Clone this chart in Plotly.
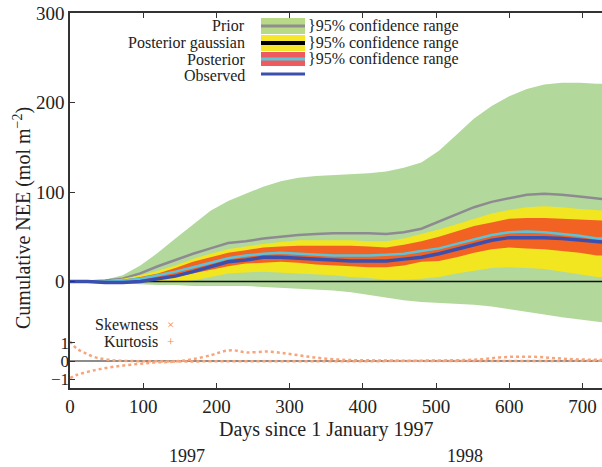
import plotly.graph_objects as go

# ---------------- data ----------------
days = [0, 24, 48, 72, 96, 120, 144, 168, 192, 216, 240, 264, 288, 312, 336, 360,
        384, 408, 432, 456, 480, 504, 528, 552, 576, 600, 624, 648, 672, 696, 720, 730]

prior_upper = [0, 0, 2, 7, 18, 32, 48, 64, 79, 90, 98, 106, 112, 116, 118, 119,
               120, 121, 123, 127, 133, 146, 164, 182, 196, 207, 215, 220, 222, 222, 221, 221]
prior_lower = [0, 0, -1, -2, -3, -4, -4, -5, -5, -5, -5, -6, -7, -8, -9, -10,
               -12, -15, -18, -21, -23, -24, -25, -26, -28, -31, -34, -37, -40, -43, -45, -46]
prior_mean = [0, 0, 1, 3, 9, 17, 24, 31, 37, 43, 45, 48, 50, 52, 53, 54,
              54, 54, 53, 55, 59, 67, 75, 83, 89, 93, 97, 98, 97, 95, 93, 92]

gauss_upper = [0, 0, 1, 3, 7, 12, 18, 25, 31, 36, 39, 42, 44, 46, 46, 46,
               46, 45, 45, 48, 53, 58, 64, 70, 76, 80, 83, 84, 83, 81, 79, 79]
gauss_lower = [0, 0, -1, -1, -1, 0, 0, 1, 5, 9, 10, 11, 10, 9, 8, 7,
               5, 4, 2, 2, 3, 5, 9, 12, 15, 16, 15, 14, 11, 8, 5, 5]

post_upper = [0, 0, 1, 2, 5, 9, 15, 22, 27, 32, 35, 38, 39, 40, 40, 40,
              40, 39, 38, 41, 45, 50, 56, 62, 66, 70, 71, 71, 70, 69, 68, 68]
post_lower = [0, 0, -1, -1, 0, 2, 5, 9, 13, 17, 20, 21, 22, 21, 19, 18,
              17, 16, 16, 18, 22, 23, 27, 32, 36, 38, 37, 36, 34, 32, 29, 29]
post_mean = [0, 0, 0, 1, 3, 7, 11, 16, 21, 26, 29, 31, 32, 31, 30, 29,
             29, 29, 30, 31, 34, 37, 42, 47, 52, 55, 56, 55, 53, 51, 48, 48]

observed = [0, 0, -1, -1, 0, 3, 6, 11, 16, 22, 24, 27, 27, 26, 25, 24,
            23, 23, 23, 25, 27, 31, 36, 41, 46, 49, 49, 49, 48, 46, 44, 44]

kurt_days = [0, 9, 20, 35, 56, 80, 120, 200, 300, 400, 500, 600, 700, 730]
kurtosis = [1.1, 0.7, 0.45, 0.2, 0.05, 0.0, -0.02, -0.02, -0.02, -0.01, 0.0, 0.0, 0.01, 0.02]

skew_days = [0, 9, 35, 60, 87, 114, 140, 166, 193, 208, 222, 240, 272, 298, 324,
             350, 377, 403, 481, 560, 587, 613, 640, 666, 693, 730]
skewness = [-0.95, -0.78, -0.5, -0.32, -0.19, -0.09, -0.04, 0.09, 0.33, 0.52, 0.6,
            0.48, 0.52, 0.4, 0.25, 0.13, 0.06, 0.04, 0.02, 0.09, 0.2, 0.24, 0.22,
            0.15, 0.09, 0.06]

upper_ticks = [0, 100, 200, 300]
lower_ticks = [-1, 0, 1]
lower_ticktext = ["\u22121", "0", "1"]
x_ticks = [0, 100, 200, 300, 400, 500, 600, 700]
year_labels = ["1997", "1998"]
year_pos = [160, 540]

# ---------------- style ----------------
GREEN = "#b3d89c"
YELLOW = "#f2e620"
ORANGE = "#f26222"
GRAY = "#8e8a92"
CYAN = "#5cc4da"
BLUE = "#3d4fae"
SK = "#f6a57c"
FONT = "Liberation Serif"
TXT = "#222222"

W, H = 602, 467
L, R, T, B = 70, 0, 13, 79
PW, PH = W - L - R, H - T - B


def px(x):
    return (x - L) / PW


def py(y):
    return (H - B - y) / PH


def band(lo, hi, color):
    return go.Scatter(x=days + days[::-1], y=hi + lo[::-1], fill="toself",
                      fillcolor=color, line=dict(width=0), mode="lines",
                      hoverinfo="skip", showlegend=False)


fig = go.Figure()
fig.add_trace(band(prior_lower, prior_upper, GREEN))
fig.add_trace(go.Scatter(x=days, y=prior_mean, mode="lines",
                         line=dict(color=GRAY, width=2.5), showlegend=False))
fig.add_trace(band(gauss_lower, gauss_upper, YELLOW))
fig.add_trace(band(post_lower, post_upper, ORANGE))
fig.add_trace(go.Scatter(x=[0, 730], y=[0, 0], mode="lines",
                         line=dict(color="#111111", width=1.6), showlegend=False))
fig.add_trace(go.Scatter(x=days, y=post_mean, mode="lines",
                         line=dict(color=CYAN, width=2.5), showlegend=False))
fig.add_trace(go.Scatter(x=days, y=observed, mode="lines",
                         line=dict(color=BLUE, width=3.5), showlegend=False))

# lower panel
fig.add_trace(go.Scatter(x=[0, 730], y=[0, 0], yaxis="y2", mode="lines",
                         line=dict(color="#666666", width=1.5), showlegend=False))
fig.add_trace(go.Scatter(x=kurt_days, y=kurtosis, yaxis="y2", mode="lines",
                         line=dict(color=SK, width=2.5, dash="dot", shape="spline"),
                         showlegend=False))
fig.add_trace(go.Scatter(x=skew_days, y=skewness, yaxis="y2", mode="lines",
                         line=dict(color=SK, width=2.5, dash="dot", shape="spline"),
                         showlegend=False))

axis_common = dict(showgrid=False, zeroline=False, ticks="inside", ticklen=5,
                   tickcolor="#333333", tickwidth=1.2)

fig.update_layout(
    width=W, height=H,
    margin=dict(l=L, r=R, t=T, b=B, pad=0),
    paper_bgcolor="white", plot_bgcolor="white",
    showlegend=False,
    xaxis=dict(range=[0, PW / 0.732], tickvals=x_ticks, showline=True,
               linecolor="#333333", linewidth=1.5, mirror="ticks",
               tickfont=dict(family=FONT, size=19, color=TXT), **axis_common),
    yaxis=dict(range=[-119, 300], tickvals=upper_ticks, showline=True,
               linecolor="#333333", linewidth=1.5,
               tickfont=dict(family=FONT, size=19, color=TXT), **axis_common),
    yaxis2=dict(range=[-1.5, 19.33], overlaying="y", side="left", anchor="x",
                tickvals=lower_ticks, ticktext=lower_ticktext, showline=False,
                tickfont=dict(family=FONT, size=17, color=TXT), **axis_common),
)

ann = []
shapes = []
f16 = dict(family=FONT, size=16, color=TXT)

# legend (upper)
rows = [("Prior", 26), ("Posterior gaussian", 43), ("Posterior", 59), ("Observed", 75)]
for name, y in rows:
    ann.append(dict(x=px(247), y=py(y), xref="paper", yref="paper", text=name,
                    showarrow=False, xanchor="right", yanchor="middle", font=f16))
for y in [26, 43, 59]:
    ann.append(dict(x=px(306), y=py(y), xref="paper", yref="paper",
                    text="}95% confidence range", showarrow=False,
                    xanchor="left", yanchor="middle", font=f16))

swatches = [(18, 34, "#b8da86", "#8e8e8e", 3),
            (35, 51, "#f5e62a", "#000000", 4),
            (52, 66, "#ee5a60", "#5ec8d8", 3)]
for y0, y1, fc, lc, lw in swatches:
    shapes.append(dict(type="rect", xref="paper", yref="paper",
                       x0=px(261), x1=px(305), y0=py(y1), y1=py(y0),
                       fillcolor=fc, line=dict(width=0), layer="above"))
    ym = (y0 + y1) / 2
    shapes.append(dict(type="line", xref="paper", yref="paper",
                       x0=px(261), x1=px(305), y0=py(ym), y1=py(ym),
                       line=dict(color=lc, width=lw), layer="above"))
shapes.append(dict(type="line", xref="paper", yref="paper",
                   x0=px(261), x1=px(305), y0=py(74), y1=py(74),
                   line=dict(color=BLUE, width=3), layer="above"))

# legend (lower)
for name, y, sym in [("Skewness", 324, "\u00d7"), ("Kurtosis", 341, "+")]:
    ann.append(dict(x=px(160), y=py(y), xref="paper", yref="paper", text=name,
                    showarrow=False, xanchor="right", yanchor="middle", font=f16))
    ann.append(dict(x=px(170), y=py(y), xref="paper", yref="paper", text=sym,
                    showarrow=False, xanchor="center", yanchor="middle",
                    font=dict(family=FONT, size=13, color="#f08a50")))

# axis titles
ann.append(dict(x=px(22), y=py(218), xref="paper", yref="paper",
                text="Cumulative NEE (mol m<sup>\u22122</sup>)", textangle=-90,
                showarrow=False, xanchor="center", yanchor="middle",
                font=dict(family=FONT, size=20, color=TXT)))
ann.append(dict(x=px(326), y=py(429), xref="paper", yref="paper",
                text="Days since 1 January 1997", showarrow=False,
                xanchor="center", yanchor="middle",
                font=dict(family=FONT, size=20, color=TXT)))
for lab, d in zip(year_labels, year_pos):
    ann.append(dict(x=d, y=py(456), xref="x", yref="paper", text=lab,
                    showarrow=False, xanchor="center", yanchor="middle",
                    font=dict(family=FONT, size=18, color=TXT)))

fig.update_layout(annotations=ann, shapes=shapes)
fig.write_html("out.html")
